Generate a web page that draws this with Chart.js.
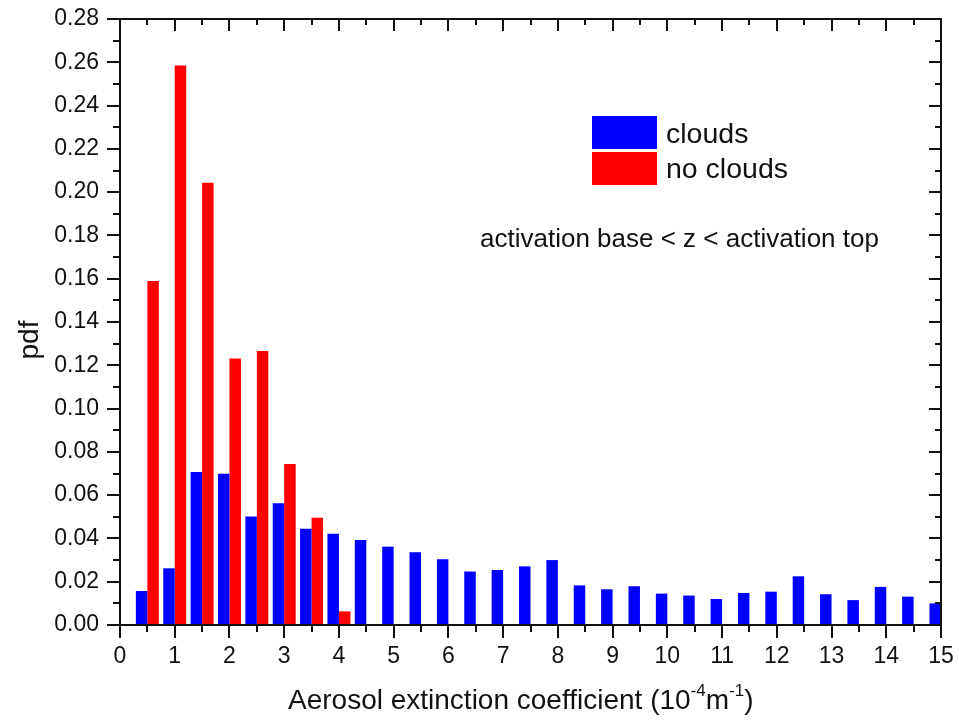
<!DOCTYPE html>
<html>
<head>
<meta charset="utf-8">
<script src="https://cdn.jsdelivr.net/npm/chart.js@4.4.1/dist/chart.umd.min.js"></script>
<style>
  html, body { margin: 0; padding: 0; background: #ffffff; }
  #wrap { width: 959px; height: 726px; }
</style>
</head>
<body>
<div id="wrap"><canvas id="c" width="959" height="726"></canvas></div>
<script>
// Histogram bins of aerosol extinction coefficient (10^-4 m^-1), bin width 0.5
const binCenters = [0.5, 1.0, 1.5, 2.0, 2.5, 3.0, 3.5, 4.0, 4.5, 5.0,
                    5.5, 6.0, 6.5, 7.0, 7.5, 8.0, 8.5, 9.0, 9.5, 10.0,
                    10.5, 11.0, 11.5, 12.0, 12.5, 13.0, 13.5, 14.0, 14.5, 15.0];
const cloudsPdf = [0.0157, 0.0262, 0.0707, 0.0699, 0.0501, 0.0562, 0.0445, 0.0422, 0.0393, 0.0362,
                   0.0336, 0.0304, 0.0247, 0.0254, 0.0271, 0.0300, 0.0183, 0.0165, 0.0179, 0.0145,
                   0.0136, 0.0120, 0.0148, 0.0154, 0.0225, 0.0142, 0.0115, 0.0176, 0.0131, 0.0100];
const noCloudsBins = [0.5, 1.0, 1.5, 2.0, 2.5, 3.0, 3.5, 4.0];
const noCloudsPdf = [0.1590, 0.2585, 0.2043, 0.1231, 0.1266, 0.0744, 0.0496, 0.0063];

const seriesNames = ['clouds', 'no clouds'];
const seriesColors = ['#0000ff', '#ff0000'];
const xRange = [0, 15];
const yRange = [0, 0.28];
const yStep = 0.02;
const annotationText = 'activation base < z < activation top';
const yTitle = 'pdf';

const FONT = '"Liberation Sans", Arial, sans-serif';

// Frame, inner/outer tick marks, legend and labels drawn on top of the bars
const decorations = {
  id: 'decorations',
  afterDatasetsDraw(chart) {
    const { ctx, chartArea: a, scales: { x, y } } = chart;
    ctx.save();
    ctx.strokeStyle = '#111';
    ctx.lineWidth = 2;
    ctx.lineCap = 'butt';
    ctx.beginPath();
    // x ticks: majors at integers, minors at halves
    for (let v = xRange[0]; v <= xRange[1] + 1e-9; v += 0.5) {
      const px = Math.round(x.getPixelForValue(v));
      const major = Math.abs(v - Math.round(v)) < 1e-9;
      ctx.moveTo(px, a.bottom); ctx.lineTo(px, a.bottom + (major ? 13 : 7));
      ctx.moveTo(px, a.top); ctx.lineTo(px, a.top + (major ? 12 : 6));
    }
    // y ticks: majors every 0.02, minors every 0.01
    const n = Math.round((yRange[1] - yRange[0]) / (yStep / 2));
    for (let i = 0; i <= n; i++) {
      const v = yRange[0] + i * yStep / 2;
      const py = Math.round(y.getPixelForValue(v));
      const major = i % 2 === 0;
      ctx.moveTo(a.left, py); ctx.lineTo(a.left - (major ? 13 : 7), py);
      ctx.moveTo(a.right, py); ctx.lineTo(a.right - (major ? 12 : 6), py);
    }
    ctx.stroke();
    ctx.strokeRect(a.left, a.top, a.right - a.left, a.bottom - a.top);

    // legend
    ctx.fillStyle = seriesColors[0];
    ctx.fillRect(592, 116, 65, 33);
    ctx.fillStyle = seriesColors[1];
    ctx.fillRect(592, 152, 65, 33);
    ctx.fillStyle = '#111';
    ctx.textAlign = 'left';
    ctx.textBaseline = 'alphabetic';
    ctx.font = '28.5px ' + FONT;
    ctx.fillText(seriesNames[0], 666, 143);
    ctx.fillText(seriesNames[1], 666, 178);

    // annotation
    ctx.font = '26px ' + FONT;
    ctx.fillText(annotationText, 480, 247);

    // x axis title with superscripts
    const parts = [
      ['Aerosol extinction coefficient (10', false],
      ['-4', true], ['m', false], ['-1', true], [')', false]
    ];
    const big = '28px ' + FONT, small = '17px ' + FONT;
    let cx = 288;
    const base = 709;
    for (const [t, sup] of parts) {
      ctx.font = sup ? small : big;
      ctx.fillText(t, cx, sup ? base - 13 : base);
      cx += ctx.measureText(t).width;
    }

    // y axis title
    ctx.save();
    ctx.translate(38, 340);
    ctx.rotate(-Math.PI / 2);
    ctx.font = '28px ' + FONT;
    ctx.textAlign = 'center';
    ctx.fillText(yTitle, 0, 0);
    ctx.restore();

    ctx.restore();
  }
};

new Chart(document.getElementById('c'), {
  type: 'bar',
  data: {
    datasets: [
      {
        label: seriesNames[0],
        data: binCenters.map((b, i) => ({ x: b, y: cloudsPdf[i] })),
        backgroundColor: seriesColors[0],
        borderWidth: 0
      },
      {
        label: seriesNames[1],
        data: noCloudsBins.map((b, i) => ({ x: b, y: noCloudsPdf[i] })),
        backgroundColor: seriesColors[1],
        borderWidth: 0
      }
    ]
  },
  options: {
    responsive: false,
    animation: false,
    categoryPercentage: 0.84,
    barPercentage: 1.0,
    layout: { padding: { top: 19, right: 18, left: 0, bottom: 0 } },
    plugins: { legend: { display: false }, tooltip: { enabled: false } },
    scales: {
      x: {
        type: 'linear',
        min: xRange[0], max: xRange[1],
        offset: false,
        grid: { display: false },
        border: { display: false },
        ticks: {
          stepSize: 1,
          padding: 10,
          color: '#111',
          font: { family: FONT, size: 23 },
          maxRotation: 0
        },
        afterFit(s) { s.height = 101; s.paddingLeft = 0; s.paddingRight = 0; }
      },
      y: {
        min: yRange[0], max: yRange[1],
        grid: { display: false },
        border: { display: false },
        ticks: {
          stepSize: yStep,
          padding: 13,
          color: '#111',
          font: { family: FONT, size: 23 },
          callback: v => v.toFixed(2)
        },
        afterFit(s) { s.width = 120; s.paddingTop = 0; s.paddingBottom = 0; }
      }
    }
  },
  plugins: [decorations]
});
</script>
</body>
</html>
